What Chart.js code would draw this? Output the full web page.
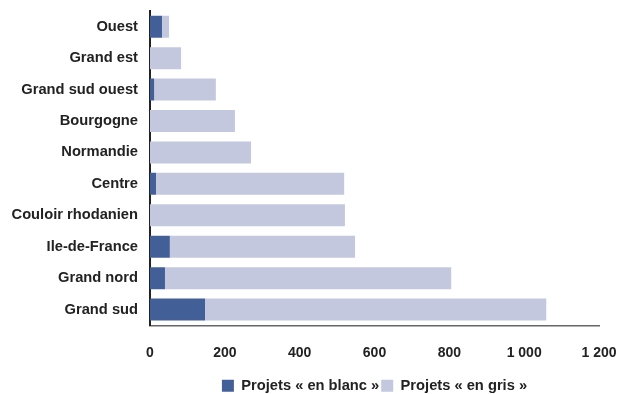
<!DOCTYPE html>
<html>
<head>
<meta charset="utf-8">
<script src="https://cdn.jsdelivr.net/npm/chart.js@4"></script>
<style>
  html, body { margin: 0; padding: 0; background: #fff; }
  #wrap { width: 619px; height: 394px; }
</style>
</head>
<body>
<div id="wrap"><canvas id="chart" width="619" height="394"></canvas></div>
<script>
// regions, top to bottom
const regions = ['Ouest', 'Grand est', 'Grand sud ouest', 'Bourgogne', 'Normandie', 'Centre',
    'Couloir rhodanien', 'Ile-de-France', 'Grand nord', 'Grand sud'];
// projects "en blanc"
const blanc = [32, 0, 11, 0, 0, 16, 0, 53, 40, 147];
// projects "en gris"
const gris = [19, 83, 165, 227, 270, 503, 521, 495, 765, 912];
const xTicks = [0, 200, 400, 600, 800, 1000, 1200];

const family = "'Liberation Sans', Arial, sans-serif";
const labelFont = { family: family, size: 14.7, weight: 'bold' };
const tickFont = { family: family, size: 14, weight: 'bold' };

const ctx = document.getElementById('chart').getContext('2d');

new Chart(ctx, {
    type: 'bar',
    data: {
        labels: regions,
        datasets: [{
            label: 'Projets « en blanc »',
            data: blanc,
            backgroundColor: '#435f98',
            borderWidth: 0
        }, {
            label: 'Projets « en gris »',
            data: gris,
            backgroundColor: '#c3c8de',
            borderWidth: 0
        }]
    },
    options: {
        indexAxis: 'y',
        responsive: false,
        animation: false,
        datasets: {
            bar: { categoryPercentage: 1, barPercentage: 0.7 }
        },
        layout: { padding: { top: 11, right: 20, left: 0, bottom: -9 } },
        scales: {
            x: {
                stacked: true,
                min: 0,
                max: 1200,
                afterBuildTicks: axis => { axis.ticks = xTicks.map(v => ({ value: v })); },
                grid: { display: false },
                border: { display: true, color: '#666', width: 1.5 },
                ticks: {
                    padding: 11,
                    color: '#222',
                    font: tickFont,
                    callback: v => String(v).replace(/\B(?=(\d{3})+(?!\d))/g, ' ')
                },
                afterFit: axis => {
                    axis.height = 51;
                    axis.paddingLeft = 0;
                    axis.paddingRight = 0;
                }
            },
            y: {
                stacked: true,
                grid: { display: false },
                border: { display: true, color: '#222', width: 2 },
                ticks: { padding: 4, color: '#222', font: labelFont },
                afterFit: axis => {
                    axis.width = 150;
                    axis.paddingTop = 0;
                    axis.paddingBottom = 0;
                }
            }
        },
        plugins: {
            legend: {
                position: 'bottom',
                fullSize: false,
                labels: {
                    color: '#222',
                    font: labelFont,
                    boxWidth: 12,
                    boxHeight: 12,
                    padding: 2
                }
            },
            tooltip: { enabled: false }
        }
    }
});
</script>
</body>
</html>
